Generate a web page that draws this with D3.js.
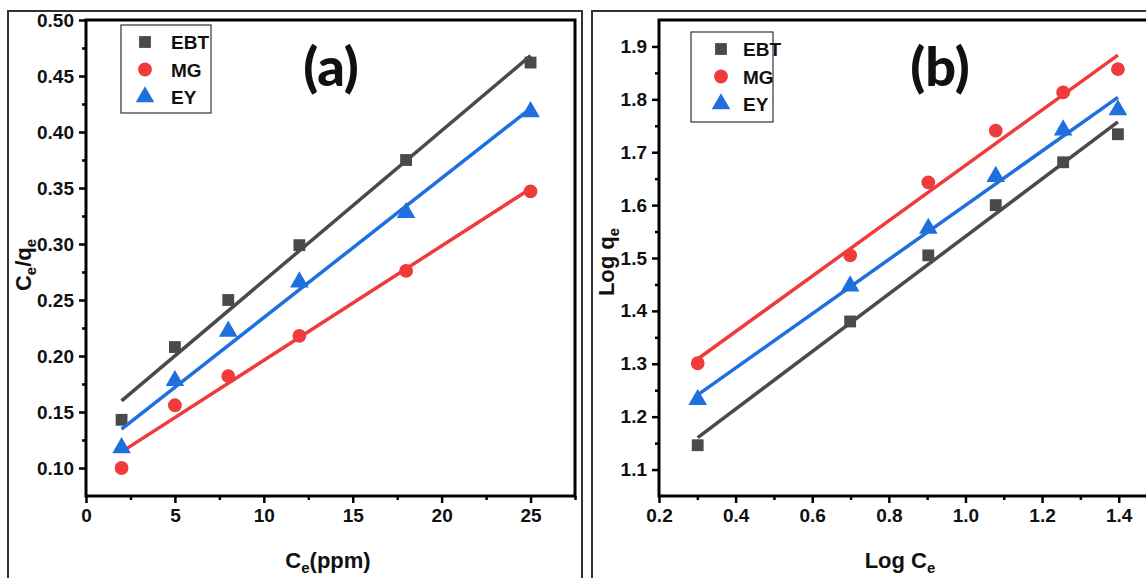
<!DOCTYPE html>
<html><head><meta charset="utf-8">
<script src="https://cdn.jsdelivr.net/npm/d3@7"></script>
<style>
body{margin:0;background:#fff;}
svg{display:block;}
.tk text{font-family:"Liberation Sans Narrow","Arial Narrow","Liberation Sans",Arial,sans-serif;font-weight:bold;font-size:19px;fill:#111;}
.ttl{font-family:"Liberation Sans Narrow","Arial Narrow","Liberation Sans",Arial,sans-serif;font-weight:bold;font-size:22px;fill:#111;}
.leg{font-family:"Liberation Sans Narrow","Arial Narrow","Liberation Sans",Arial,sans-serif;font-weight:bold;font-size:19px;fill:#111;}
.pl{font-family:Lato,"Open Sans",sans-serif;font-weight:900;font-size:54px;fill:#111;}
</style></head>
<body><svg id="c" width="1146" height="578"></svg>
<script>
// ---- data ----
const seriesNames = ["EBT", "MG", "EY"];
const seriesColors = ["#4a4a4a", "#ef3b3b", "#1f6fde"];
const ce = [2, 5, 8, 12, 18, 25];
const ceqeEBT = [0.143, 0.208, 0.250, 0.299, 0.375, 0.462];
const ceqeMG  = [0.100, 0.156, 0.182, 0.218, 0.276, 0.347];
const ceqeEY  = [0.118, 0.178, 0.222, 0.266, 0.328, 0.418];
const logCe = [0.301, 0.699, 0.903, 1.079, 1.255, 1.398];
const logqeEBT = [1.146, 1.380, 1.505, 1.600, 1.681, 1.734];
const logqeMG  = [1.301, 1.505, 1.643, 1.741, 1.813, 1.857];
const logqeEY  = [1.232, 1.447, 1.556, 1.654, 1.742, 1.780];
const ticksAx = [0, 5, 10, 15, 20, 25];
const ticksAy = [0.10, 0.15, 0.20, 0.25, 0.30, 0.35, 0.40, 0.45, 0.50];
const ticksBx = [0.2, 0.4, 0.6, 0.8, 1.0, 1.2, 1.4];
const ticksBy = [1.1, 1.2, 1.3, 1.4, 1.5, 1.6, 1.7, 1.8, 1.9];

const svg = d3.select("#c");
const symbols = [d3.symbolSquare, d3.symbolCircle, d3.symbolTriangle];
const symSizes = [140, 150, 150];

function fit(xs, ys){
  const mx = d3.mean(xs), my = d3.mean(ys);
  let sxy=0, sxx=0;
  xs.forEach((x,i)=>{sxy+=(x-mx)*(ys[i]-my); sxx+=(x-mx)*(x-mx);});
  const b = sxy/sxx; return [b, my-b*mx];
}

function panel(opt){
  const g = svg.append("g");
  g.append("rect").attr("x",opt.frame[0]).attr("y",opt.frame[1]).attr("width",opt.frame[2]).attr("height",opt.frame[3])
    .attr("fill","none").attr("stroke","#333").attr("stroke-width",2);
  const x = d3.scaleLinear().domain(opt.xd).range(opt.xr);
  const y = d3.scaleLinear().domain(opt.yd).range(opt.yr);
  const xa = d3.axisBottom(x).tickValues(opt.xt).tickFormat(opt.xf).tickSize(7).tickPadding(6);
  const xm = d3.axisBottom(x).tickValues(opt.xminor).tickFormat("").tickSize(4);
  const ya = d3.axisLeft(y).tickValues(opt.yt).tickFormat(opt.yf).tickSize(7).tickPadding(5);
  const ym = d3.axisLeft(y).tickValues(opt.yminor).tickFormat("").tickSize(4);
  [xa,xm].forEach(a=>{
    const ag = g.append("g").attr("class","tk").attr("transform",`translate(0,${opt.yr[0]})`).call(a);
    ag.select(".domain").remove(); ag.selectAll("line").attr("stroke","#000").attr("stroke-width",2.5);
  });
  [ya,ym].forEach(a=>{
    const ag = g.append("g").attr("class","tk").attr("transform",`translate(${opt.xr[0]},0)`).call(a);
    ag.select(".domain").remove(); ag.selectAll("line").attr("stroke","#000").attr("stroke-width",2.5);
  });
  g.append("rect").attr("x",opt.xr[0]).attr("y",opt.yr[1]).attr("width",opt.xr[1]-opt.xr[0]).attr("height",opt.yr[0]-opt.yr[1])
    .attr("fill","none").attr("stroke","#000").attr("stroke-width",3);
  opt.ys.forEach((ys,i)=>{
    const [b,a] = fit(opt.xs, ys);
    const x0 = d3.min(opt.xs), x1 = d3.max(opt.xs);
    g.append("line").attr("x1",x(x0)).attr("y1",y(a+b*x0)).attr("x2",x(x1)).attr("y2",y(a+b*x1))
      .attr("stroke",seriesColors[i]).attr("stroke-width",3.5);
    g.selectAll(null).data(ys).enter().append("path")
      .attr("d",d3.symbol().type(symbols[i]).size(symSizes[i]))
      .attr("transform",(d,j)=>`translate(${x(opt.xs[j])},${y(d)})`)
      .attr("fill",seriesColors[i]);
  });
  const L = opt.leg;
  g.append("rect").attr("x",L[0]).attr("y",L[1]).attr("width",L[2]).attr("height",L[3])
    .attr("fill","#fff").attr("stroke","#333").attr("stroke-width",1.2);
  seriesNames.forEach((n,i)=>{
    const yy = L[1]+17+i*27.5;
    g.append("path").attr("d",d3.symbol().type(symbols[i]).size(symSizes[i]))
      .attr("transform",`translate(${L[0]+L[4]},${yy})`).attr("fill",seriesColors[i]);
    g.append("text").attr("class","leg").attr("x",L[0]+L[5]).attr("y",yy+7).text(n);
  });
  g.append("text").attr("class","pl").attr("x",opt.pl[0]).attr("y",opt.pl[1]).attr("text-anchor","middle").text(opt.plt);
  const xt = g.append("text").attr("class","ttl").attr("x",opt.xtp[0]).attr("y",opt.xtp[1]).attr("text-anchor","middle");
  opt.xtitle(xt);
  const yt = g.append("text").attr("class","ttl").attr("text-anchor","middle")
    .attr("transform",`translate(${opt.ytp[0]},${opt.ytp[1]}) rotate(-90)`);
  opt.ytitle(yt);
}

function sub(t, parts){
  parts.forEach(p=>{
    if(p[1]) t.append("tspan").attr("dy",5).attr("font-size","15px").text(p[0]);
    else t.append("tspan").attr("dy",p[2]||0).text(p[0]);
  });
}

panel({
  frame:[8,11,574,600],
  xd:[0,27.5], xr:[86,575], yd:[0.075,0.5], yr:[496,20],
  xt:ticksAx, xf:d3.format("d"), yt:ticksAy, yf:d3.format(".2f"),
  xminor:[2.5,7.5,12.5,17.5,22.5,27.5], yminor:[0.125,0.175,0.225,0.275,0.325,0.375,0.425,0.475],
  xs:ce, ys:[ceqeEBT, ceqeMG, ceqeEY],
  leg:[121,25,90,88,24,50],
  pl:[331,86], plt:"(a)",
  xtp:[328,568], ytp:[31,265],
  xtitle:t=>sub(t,[["C"],["e",1],["(ppm)",0,-5]]),
  ytitle:t=>sub(t,[["C"],["e",1],["/q",0,-5],["e",1]])
});

panel({
  frame:[592,11,600,600],
  xd:[0.2,1.5], xr:[659,1157], yd:[1.05,1.95], yr:[496,20],
  xt:ticksBx, xf:d3.format(".1f"), yt:ticksBy, yf:d3.format(".1f"),
  xminor:[0.3,0.5,0.7,0.9,1.1,1.3,1.5], yminor:[1.15,1.25,1.35,1.45,1.55,1.65,1.75,1.85],
  xs:logCe, ys:[logqeEBT, logqeMG, logqeEY],
  leg:[691,32,82,90,30,52],
  pl:[940,86], plt:"(b)",
  xtp:[900,568], ytp:[614,262],
  xtitle:t=>sub(t,[["Log C"],["e",1]]),
  ytitle:t=>sub(t,[["Log q"],["e",1]])
});
</script></body></html>
